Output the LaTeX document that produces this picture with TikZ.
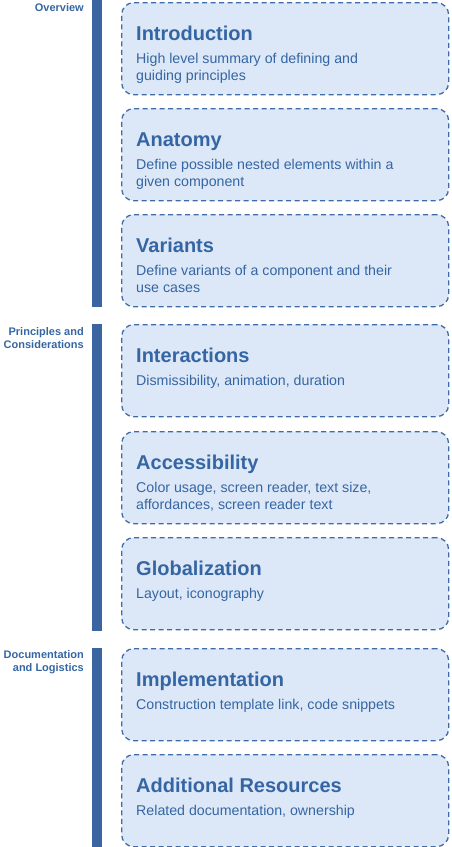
\documentclass[tikz,border=0pt]{standalone}
\usepackage{fontspec}
\setmainfont{Liberation Sans}
\definecolor{boxfill}{HTML}{DCE8F7}
\definecolor{boxline}{HTML}{3F6BA8}
\definecolor{ink}{HTML}{3566A3}
\definecolor{barblue}{HTML}{3A65A0}
% text blocks whose baseline is that of their first line
\newcommand{\leftlines}[1]{\begin{tabular}[t]{@{}l@{}}#1\end{tabular}}
\newcommand{\rightlines}[1]{\begin{tabular}[t]{@{}r@{}}#1\end{tabular}}
\begin{document}
\begin{tikzpicture}[x=1pt,y=-1pt,
  card/.style={draw=boxline, fill=boxfill, line width=1.3pt,
    dash pattern=on 5pt off 3.5pt, rounded corners=12pt,
    minimum width=327pt, minimum height=92pt, inner sep=0pt, anchor=north west},
  cardtitle/.style={anchor=base west, inner sep=0pt, text=ink,
    font=\bfseries\fontsize{20}{24}\selectfont},
  carddesc/.style={anchor=base west, inner sep=0pt, text=ink,
    font=\fontsize{14.2}{17}\selectfont},
  sectionbar/.style={fill=barblue, draw=none},
  sectionlabel/.style={anchor=base east, inner sep=0pt, text=ink,
    font=\bfseries\fontsize{11}{13}\selectfont}
]
\useasboundingbox (0,0) rectangle (451,847);

% section bars
\fill[sectionbar] (92,0) rectangle (102,307);
\fill[sectionbar] (92,324) rectangle (102,631);
\fill[sectionbar] (92,648) rectangle (102,847);

% section labels
\node[sectionlabel] (s1) at (84,11) {Overview};
\node[sectionlabel] (s2) at (84,335) {\rightlines{Principles and\\Considerations}};
\node[sectionlabel] (s3) at (84,658) {\rightlines{Documentation\\and Logistics}};

% cards
\foreach \n/\y/\t/\d in {
  c1/2/Introduction/{High level summary of defining and\\guiding principles},
  c2/108/Anatomy/{Define possible nested elements within a\\given component},
  c3/214/Variants/{Define variants of a component and their\\use cases},
  c4/324/Interactions/{Dismissibility, animation, duration},
  c5/431/Accessibility/{Color usage, screen reader, text size,\\affordances, screen reader text},
  c6/537/Globalization/{Layout, iconography},
  c7/648/Implementation/{Construction template link, code snippets},
  c8/754/Additional Resources/{Related documentation, ownership}} {
  \node[card] (\n) at (121,\y) {};
  \node[cardtitle] (\n-t) at ([shift={(15pt,-38pt)}]\n.north west) {\t};
  \node[carddesc] (\n-d) at ([shift={(15pt,-61pt)}]\n.north west) {\leftlines{\d}};
}
\end{tikzpicture}
\end{document}
